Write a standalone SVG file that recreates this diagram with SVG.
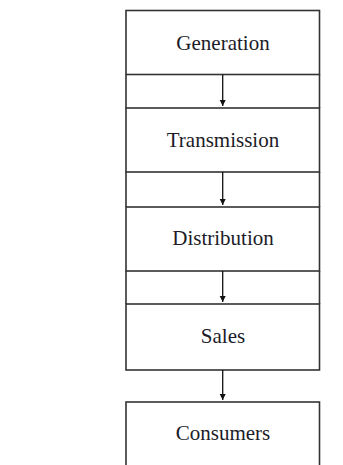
<svg xmlns="http://www.w3.org/2000/svg" width="343" height="465" viewBox="0 0 343 465">
<style>
.box{fill:#fff;stroke:#333;stroke-width:1.6}
.sep{stroke:#333;stroke-width:1.6}
.lbl{font-family:"Liberation Serif","Times New Roman",serif;font-size:21px;fill:#1c1c28;text-anchor:middle}
.con{stroke:#111;stroke-width:1.3;fill:none;marker-end:url(#ah)}
</style>
<defs>
<marker id="ah" markerWidth="8" markerHeight="8" refX="6" refY="3" orient="auto" markerUnits="userSpaceOnUse">
<path d="M0,0 L6,3 L0,6 Z" fill="#111"/>
</marker>
</defs>
<rect width="343" height="465" fill="#fff"/>
<g id="generation">
<rect class="box" x="126" y="10.5" width="193.5" height="64"/>
<text class="lbl" x="223" y="50">Generation</text>
</g>
<g id="transmission">
<rect class="box" x="126" y="108" width="193.5" height="64"/>
<text class="lbl" x="223" y="147">Transmission</text>
</g>
<g id="distribution">
<rect class="box" x="126" y="207" width="193.5" height="64"/>
<text class="lbl" x="223" y="245">Distribution</text>
</g>
<g id="sales">
<rect class="box" x="126" y="304" width="193.5" height="66"/>
<text class="lbl" x="223" y="343">Sales</text>
</g>
<g id="consumers">
<rect class="box" x="126" y="402" width="193.5" height="80"/>
<text class="lbl" x="223" y="440">Consumers</text>
</g>
<g id="connectors">
<line class="sep" x1="126" y1="74.5" x2="126" y2="108"/>
<line class="sep" x1="319.5" y1="74.5" x2="319.5" y2="108"/>
<line class="sep" x1="126" y1="172" x2="126" y2="207"/>
<line class="sep" x1="319.5" y1="172" x2="319.5" y2="207"/>
<line class="sep" x1="126" y1="271" x2="126" y2="304"/>
<line class="sep" x1="319.5" y1="271" x2="319.5" y2="304"/>
<line class="con" x1="222.7" y1="74.5" x2="222.7" y2="106"/>
<line class="con" x1="222.7" y1="172" x2="222.7" y2="205"/>
<line class="con" x1="222.7" y1="271" x2="222.7" y2="302"/>
<line class="con" x1="222.7" y1="370" x2="222.7" y2="400"/>
</g>
</svg>
